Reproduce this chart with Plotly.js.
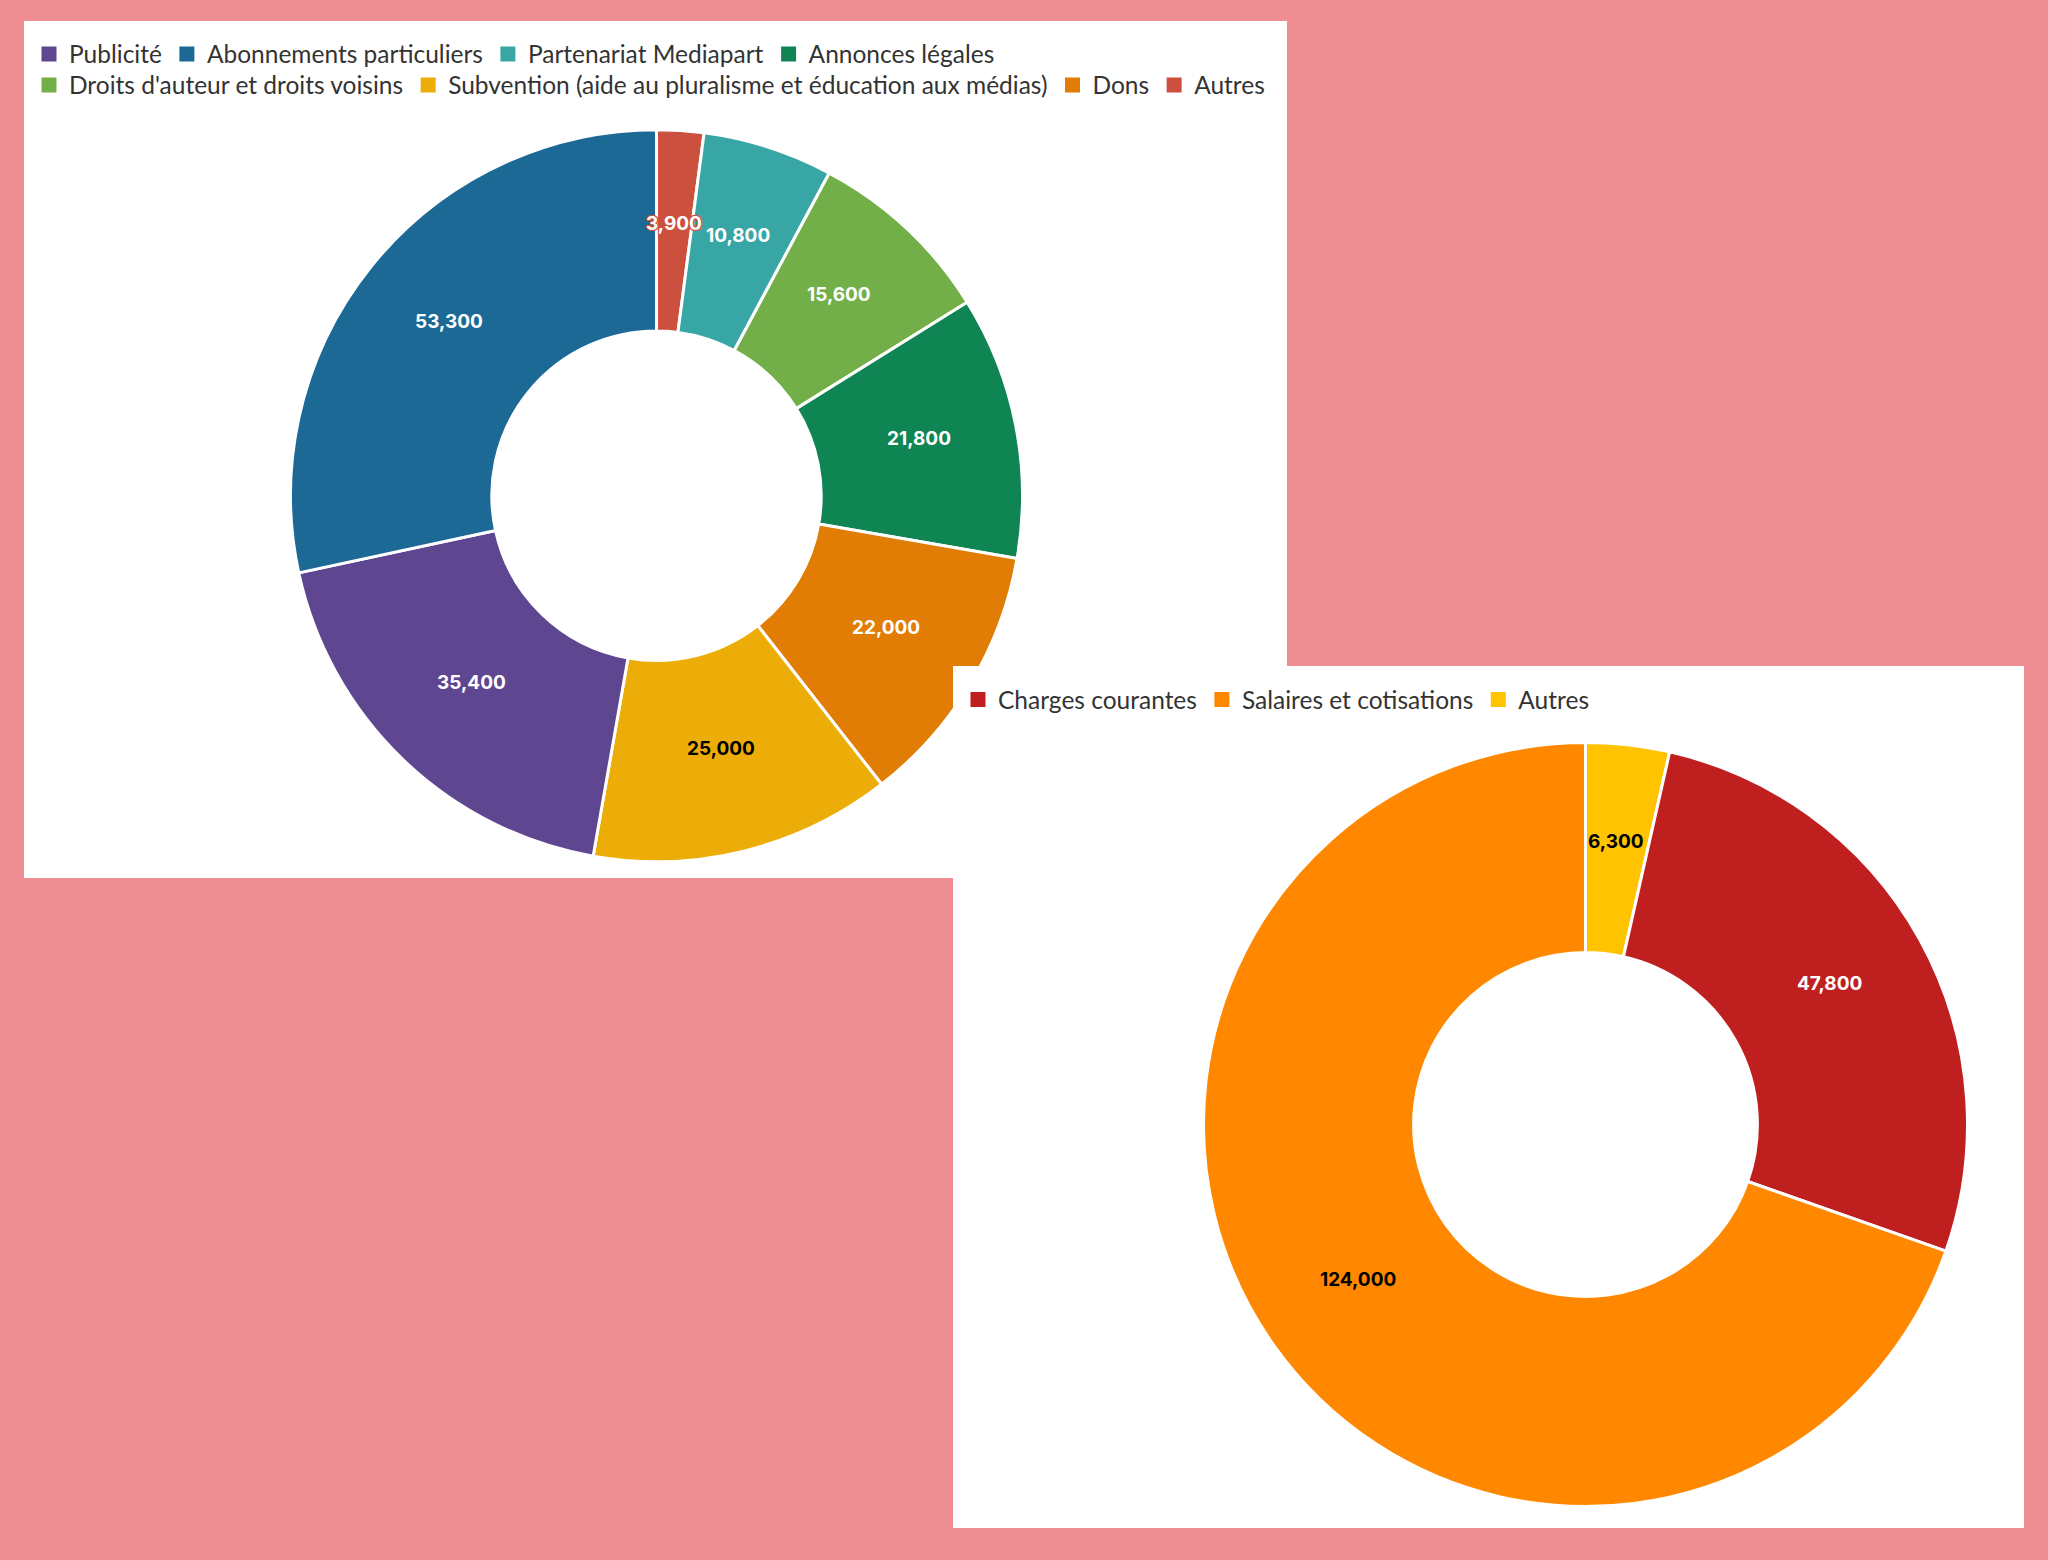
<!DOCTYPE html>
<html><head><meta charset="utf-8">
<script src="https://cdn.plot.ly/plotly-3.0.1.min.js"></script>
<style>
html,body{margin:0;padding:0;background:#ee8e93;width:2048px;height:1560px;overflow:hidden;}
#c1{position:absolute;left:24px;top:21px;width:1263px;height:857px;background:#fff;z-index:1;}
#c2{position:absolute;left:953px;top:666px;width:1071px;height:862px;background:#fff;z-index:2;}
</style></head><body>
<div id="c1"></div><div id="c2"></div>
<script>
// ---- Chart 1: recettes ----
const revenueLabels = ["Publicité", "Abonnements particuliers", "Partenariat Mediapart", "Annonces légales",
  "Droits d'auteur et droits voisins", "Subvention (aide au pluralisme et éducation aux médias)", "Dons", "Autres"];
const revenueValues = [35400, 53300, 10800, 21800, 15600, 25000, 22000, 3900];
const revenueColors = ["#5F4690", "#1D6996", "#38A6A5", "#0F8554", "#73AF48", "#EDAD08", "#E17C05", "#CC503E"];
const revenueTextColors = ["#ffffff", "#ffffff", "#ffffff", "#ffffff", "#ffffff", "#000000", "#ffffff", "#ffffff"];

// ---- Chart 2: dépenses ----
const expenseLabels = ["Charges courantes", "Salaires et cotisations", "Autres"];
const expenseValues = [47800, 124000, 6300];
const expenseColors = ["#C01F20", "#FF8800", "#FFC300"];
const expenseTextColors = ["#ffffff", "#000000", "#000000"];

const labelFont = "Inter, 'Noto Sans', sans-serif";
const legendFont = "Lato, 'Noto Sans', sans-serif";
const HOLE = 0.45;
const LABEL_R = 0.73;

function halo(c) {
  return `${c} 1px 1px 0, ${c} -1px -1px 0, ${c} 1px -1px 0, ${c} -1px 1px 0, ${c} 0 1px 0, ${c} 0 -1px 0, ${c} 1px 0 0, ${c} -1px 0 0`;
}

function ascOrder(values) {
  return values.map((v, i) => i).sort((a, b) => values[a] - values[b]);
}

// Legend-only pie (keeps legend in data order); hidden under the ring of the main donut
function legendPie(labels, values, colors, legendId, domain) {
  return {
    type: 'pie', labels: labels, values: values, sort: false,
    marker: {colors: colors, line: {color: colors, width: 3}},
    domain: domain, textinfo: 'none', hoverinfo: 'skip',
    legend: legendId, showlegend: true
  };
}

// Main donut: slices ascending by value, clockwise from 12 o'clock
function donut(labels, values, colors, domain) {
  const idx = ascOrder(values);
  const pick = arr => idx.map(i => arr[i]);
  return {
    type: 'pie', labels: pick(labels), values: pick(values), hole: HOLE,
    sort: false, direction: 'clockwise', rotation: 0,
    marker: {colors: pick(colors), line: {color: '#ffffff', width: 3}},
    domain: domain, textinfo: 'none',
    showlegend: false, hoverinfo: 'none'
  };
}

// Value labels at the middle of each ring segment, derived from the data
function valueLabels(values, textColors, shadows, domain, W, H) {
  const idx = ascOrder(values);
  const total = values.reduce((a, b) => a + b, 0);
  const cx = (domain.x[0] + domain.x[1]) / 2 * W;
  const cy = (1 - (domain.y[0] + domain.y[1]) / 2) * H;
  const R = Math.min((domain.x[1] - domain.x[0]) * W, (domain.y[1] - domain.y[0]) * H) / 2;
  let cum = 0;
  return idx.map(i => {
    const th = 2 * Math.PI * (cum + values[i] / 2) / total;
    cum += values[i];
    const px = cx + LABEL_R * R * Math.sin(th);
    const py = cy - LABEL_R * R * Math.cos(th);
    return {
      xref: 'paper', yref: 'paper', x: px / W, y: 1 - py / H,
      xanchor: 'center', yanchor: 'middle', showarrow: false, yshift: 6,
      text: values[i].toLocaleString('en-US'),
      font: {family: labelFont, size: 19, weight: 700, color: textColors[i], shadow: shadows[i]}
    };
  });
}

function legendCfg(y, h, w) {
  return {
    orientation: 'h', x: 5 / w, xanchor: 'left', y: 1 - y / h, yanchor: 'middle',
    font: {family: legendFont, size: 24.5, color: '#333333'},
    bgcolor: 'rgba(0,0,0,0)', borderwidth: 0, itemclick: false, itemdoubleclick: false
  };
}

const W1 = 1263, H1 = 857;
const dom1 = {x: [266.5 / W1, 998.5 / W1], y: [16.3 / H1, 748.3 / H1]};
const hiddenDomain1 = {x: [0.25, 0.2502], y: [0.55, 0.5503]};
const revShadows = revenueLabels.map((l, i) => i === revenueLabels.length - 1 ? halo(revenueColors[i]) : 'none');

const data1 = [
  legendPie(revenueLabels.slice(0, 4), revenueValues.slice(0, 4), revenueColors.slice(0, 4), 'legend', hiddenDomain1),
  legendPie(revenueLabels.slice(4), revenueValues.slice(4), revenueColors.slice(4), 'legend2', hiddenDomain1),
  donut(revenueLabels, revenueValues, revenueColors, dom1)
];
const layout1 = {
  width: W1, height: H1, margin: {l: 0, r: 0, t: 0, b: 0},
  paper_bgcolor: '#ffffff', plot_bgcolor: '#ffffff',
  legend: legendCfg(33, H1, W1), legend2: legendCfg(64, H1, W1),
  annotations: valueLabels(revenueValues, revenueTextColors, revShadows, dom1, W1, H1)
};

const W2 = 1071, H2 = 862;
const dom2 = {x: [250.5 / W2, 1014.5 / W2], y: [21.5 / H2, 785.5 / H2]};
const hiddenDomain2 = {x: [0.25, 0.2502], y: [0.55, 0.5503]};
const expShadows = expenseLabels.map(() => 'none');
const data2 = [
  legendPie(expenseLabels, expenseValues, expenseColors, 'legend', hiddenDomain2),
  donut(expenseLabels, expenseValues, expenseColors, dom2)
];
const layout2 = {
  width: W2, height: H2, margin: {l: 0, r: 0, t: 0, b: 0},
  paper_bgcolor: '#ffffff', plot_bgcolor: '#ffffff',
  legend: legendCfg(33.5, H2, W2),
  annotations: valueLabels(expenseValues, expenseTextColors, expShadows, dom2, W2, H2)
};

const cfg = {staticPlot: true, displayModeBar: false};
Plotly.newPlot('c1', data1, layout1, cfg);
Plotly.newPlot('c2', data2, layout2, cfg);
</script>
</body></html>
